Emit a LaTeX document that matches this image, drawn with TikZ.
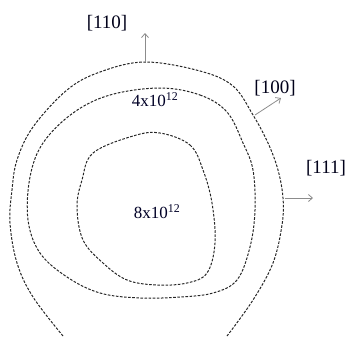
\documentclass[tikz,border=0pt]{standalone}
\usepackage{fontspec}
\setmainfont{Liberation Serif}
\usetikzlibrary{arrows.meta}
\begin{document}
\begin{tikzpicture}[x={(1pt,0)},y={(0,-1pt)},
  contour/.style={draw=black!85,line width=1pt,dash pattern=on 2.6pt off 1.5pt},
  dirarrow/.style={draw=black!45,line width=0.8pt,-{Straight Barb[length=4pt,width=7pt]}},
  lbl/.style={font=\fontsize{19}{20}\selectfont,text=black!90!blue,inner sep=0pt},
  conc/.style={font=\fontsize{17}{18}\selectfont,text=black!85!blue,inner sep=0pt}]
\useasboundingbox (0,0) rectangle (350,338);
% outer contour (open at bottom)
\draw[contour] plot[smooth,tension=0.6] coordinates {(63,336) (33,297) (17,263) (10,223) (12,190) (17,160) (33,127) (67,90) (100,72) (145,62) (200,71) (233,86) (253,115) (268,143) (278,170) (283,198) (282,225) (273,263) (253,300) (227,336)};
% middle contour
\draw[contour] plot[smooth cycle,tension=0.6] coordinates {(160,88) (200,95) (227,112) (243,143) (253,170) (255,210) (250,247) (237,280) (213,293) (180,297) (140,298) (100,293) (67,277) (40,253) (28,220) (30,177) (43,143) (73,113) (110,95)};
% inner contour
\draw[contour] plot[smooth cycle,tension=0.6] coordinates {(160,133) (190,145) (203,170) (212,203) (215,243) (207,273) (187,283) (157,285) (127,280) (103,263) (83,240) (77,207) (82,180) (93,153) (133,136)};
% labels
\node[lbl] (l110) at (107,23) {[110]};
\node[lbl] (l100) at (275,88) {[100]};
\node[lbl] (l111) at (326,168) {[111]};
\node[conc] (c4) at (155,100) {4x10\textsuperscript{12}};
\node[conc] (c8) at (157,212) {8x10\textsuperscript{12}};
% arrows
\coordinate (a110s) at (145,62);
\coordinate (a110e) at (145,33);
\coordinate (a100s) at (255,115);
\coordinate (a100e) at (281,98);
\coordinate (a111s) at (285,198);
\coordinate (a111e) at (313,198);
\draw[dirarrow] (a110s) -- (a110e);
\draw[dirarrow] (a100s) -- (a100e);
\draw[dirarrow] (a111s) -- (a111e);
\end{tikzpicture}
\end{document}
